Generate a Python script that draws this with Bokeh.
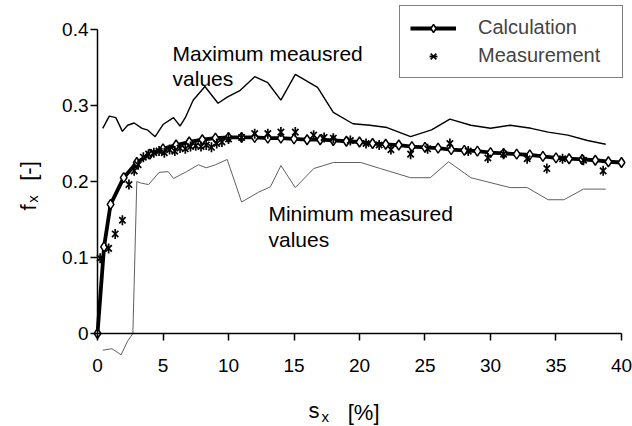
import numpy as np
from bokeh.plotting import figure
from bokeh.models import Label, Legend, LegendItem, FixedTicker, CustomJSTickFormatter, Range1d
from bokeh.embed import file_html
from bokeh.resources import INLINE

FONT = "Liberation Sans"

# ---- data ----
x_ticks = [0, 5, 10, 15, 20, 25, 30, 35, 40]
y_ticks = [0, 0.1, 0.2, 0.3, 0.4]

calc_x = [0, 0.5, 1, 2, 3, 4, 5, 6, 7, 8, 9, 10, 11, 12, 13, 14, 15, 16, 17, 18, 19, 20,
          21, 22, 23, 24, 25, 26, 27, 28, 29, 30, 31, 32, 33, 34, 35, 36, 37, 38, 39, 40]
calc_y = [0.0, 0.114, 0.170, 0.205, 0.225, 0.236, 0.243, 0.248, 0.252, 0.255, 0.257, 0.258,
          0.258, 0.258, 0.257, 0.257, 0.256, 0.255, 0.255, 0.254, 0.253, 0.252,
          0.250, 0.249, 0.248, 0.246, 0.245, 0.244, 0.242, 0.241, 0.240, 0.238,
          0.237, 0.236, 0.235, 0.233, 0.231, 0.230, 0.229, 0.228, 0.226, 0.225]

meas_x = [0.2, 0.85, 1.35, 1.9, 2.4, 2.8, 3.1, 3.5, 3.9, 4.3, 4.7, 5.1, 5.5, 5.9, 6.3, 6.7,
          7.1, 7.5, 7.9, 8.3, 8.7, 9.1, 9.5, 10.0, 11.0, 12.0, 13.0, 14.0, 15.1, 16.5,
          17.3, 18.0, 19.3, 20.5, 21.5, 22.4, 23.9, 25.2, 26.9, 28.3, 29.8, 31.0, 32.8,
          34.3, 35.5, 37.1, 38.6]
meas_y = [0.099, 0.112, 0.131, 0.149, 0.196, 0.214, 0.222, 0.232, 0.236, 0.238, 0.240,
          0.238, 0.242, 0.240, 0.244, 0.243, 0.246, 0.247, 0.246, 0.248, 0.245, 0.250,
          0.252, 0.256, 0.258, 0.263, 0.263, 0.265, 0.265, 0.261, 0.258, 0.257, 0.254,
          0.250, 0.248, 0.242, 0.236, 0.243, 0.250, 0.240, 0.231, 0.236, 0.230, 0.217,
          0.230, 0.228, 0.214]

max_x = [0.4, 0.9, 1.4, 1.9, 2.3, 2.8, 3.4, 3.8, 4.4, 5.0, 5.8, 6.3, 6.7, 7.3, 8.2, 9.2,
         9.9, 10.9, 12.0, 13.0, 14.0, 15.1, 16.8, 18.0, 19.5, 20.8, 22.1, 23.9, 25.5,
         26.9, 28.5, 30.0, 31.5, 33.1, 34.4, 35.9, 37.4, 38.8]
max_y = [0.270, 0.286, 0.284, 0.266, 0.274, 0.277, 0.270, 0.268, 0.259, 0.275, 0.284,
         0.273, 0.284, 0.307, 0.325, 0.303, 0.311, 0.320, 0.338, 0.330, 0.307, 0.341,
         0.324, 0.291, 0.276, 0.274, 0.271, 0.259, 0.268, 0.282, 0.274, 0.270, 0.274,
         0.270, 0.265, 0.261, 0.254, 0.249]

min_x = [0.4, 1.1, 1.8, 2.3, 2.7, 3.0, 3.3, 3.9, 4.7, 5.4, 5.8, 6.8, 7.7, 8.3, 9.0, 9.9,
         11.0, 12.3, 13.2, 14.0, 15.1, 16.5, 18.0, 20.1, 21.6, 23.9, 25.4, 26.8, 28.5,
         31.5, 32.8, 34.4, 35.6, 37.1, 38.8]
min_y = [-0.022, -0.020, -0.028, -0.010, 0.0, 0.200, 0.198, 0.196, 0.212, 0.213, 0.204,
         0.213, 0.222, 0.218, 0.222, 0.229, 0.173, 0.186, 0.193, 0.221, 0.192, 0.217,
         0.225, 0.225, 0.217, 0.205, 0.205, 0.226, 0.205, 0.192, 0.192, 0.176, 0.176,
         0.190, 0.190]

# whole figure is the frame; axes are pinned at x=0 / y=0
p = figure(width=632, height=426, x_range=Range1d(-7.405, 40.84),
           y_range=Range1d(-0.1224, 0.4382),
           output_backend="svg", toolbar_location=None,
           min_border_left=0, min_border_right=0, min_border_top=0, min_border_bottom=0)
p.xgrid.visible = False
p.ygrid.visible = False
p.outline_line_color = None

for ax in (p.xaxis, p.yaxis):
    ax.axis_line_color = "black"
    ax.axis_line_width = 1.5
    ax.major_tick_line_color = "black"
    ax.major_tick_line_width = 1.5
    ax.major_tick_out = 7
    ax.major_tick_in = 0
    ax.minor_tick_out = 0
    ax.minor_tick_in = 0
    ax.major_label_text_font = FONT
    ax.major_label_text_font_size = "19px"
    ax.major_label_text_color = "black"

p.xaxis.fixed_location = 0
p.yaxis.fixed_location = 0
p.xaxis.ticker = FixedTicker(ticks=x_ticks)
p.xaxis.bounds = (0, 40)
p.xaxis.major_label_standoff = 19
p.yaxis.ticker = FixedTicker(ticks=y_ticks)
p.yaxis.bounds = (0, 0.4)
p.yaxis.major_label_standoff = 2
p.yaxis.formatter = CustomJSTickFormatter(code="return String(tick);")

p.line(max_x, max_y, line_color="black", line_width=1.4)
p.line(min_x, min_y, line_color="#606060", line_width=1)
calc_line = p.line(calc_x, calc_y, line_color="black", line_width=3.8)
calc_pts = p.scatter(calc_x, calc_y, marker="diamond", size=10, fill_color="white",
                     line_color="black", line_width=1.5)
m_x = p.scatter(meas_x, meas_y, marker="x", size=9, line_color="black", line_width=1.7)
m_v = p.scatter(meas_x, meas_y, marker="dash", angle=np.pi / 2, size=10,
                line_color="black", line_width=1.7)

legend = Legend(items=[LegendItem(label="Calculation", renderers=[calc_line, calc_pts]),
                       LegendItem(label="Measurement", renderers=[m_x, m_v])],
                location=(399, 348), margin=0, border_line_color="black",
                border_line_width=1, padding=10, spacing=5, glyph_width=46,
                glyph_height=20, label_height=20, label_width=134, label_standoff=22,
                label_text_font=FONT, label_text_font_size="20px",
                background_fill_color="white", background_fill_alpha=1)
p.add_layout(legend)

def lab(x, y, text, size="21px", angle=0.0):
    p.add_layout(Label(x=x, y=y, text=text, text_font=FONT, text_font_size=size,
                       text_color="black", text_baseline="alphabetic", text_align="left",
                       angle=angle))

lab(5.73, 0.368, "Maximum meausred")
lab(5.73, 0.3355, "values")
lab(13.05, 0.158, "Minimum measured")
lab(13.05, 0.1237, "values")

# axis titles
lab(16.1, -0.101, "s", size="22px")
lab(17.1, -0.109, "x", size="15px")
lab(19.1, -0.104, "[%]", size="22px")
lab(-5.27, 0.162, "f", size="22px", angle=np.pi / 2)
lab(-4.96, 0.172, "x", size="15px", angle=np.pi / 2)
lab(-5.27, 0.201, "[-]", size="22px", angle=np.pi / 2)

open("out.html", "w").write(file_html(p, INLINE))
